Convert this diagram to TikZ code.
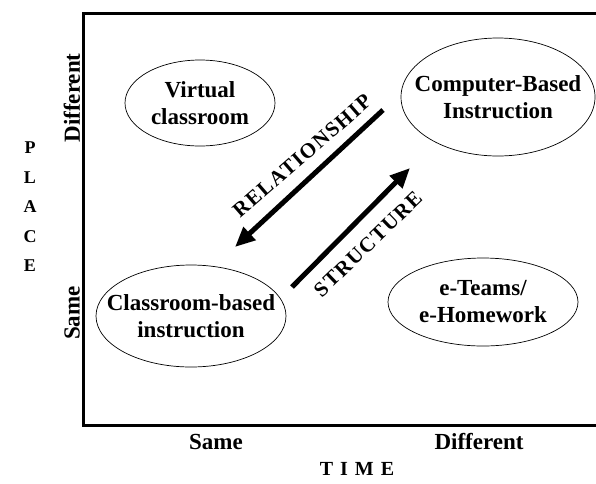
\documentclass[tikz,border=0pt]{standalone}
\usepackage{fontspec}
\setmainfont{Liberation Serif}
\newfontfamily\spacedfont[LetterSpace=7]{Liberation Serif}
\usetikzlibrary{shapes.geometric,arrows.meta}
\begin{document}
\begin{tikzpicture}[x=1pt,y=-1pt,
  oval/.style={ellipse,draw,line width=0.7pt,inner sep=0pt},
  ovaltext/.style={inner sep=0pt,font=\fontsize{23}{27}\selectfont\bfseries,align=center},
  axislab/.style={font=\fontsize{23}{27}\selectfont\bfseries},
  arrowlab/.style={font=\fontsize{21}{25}\selectfont\spacedfont\bfseries},
  bigarrow/.style={line width=5pt,-{Triangle[length=20pt,width=17pt]}}]
\useasboundingbox (0,0) rectangle (596,483);
\coordinate (tl) at (83,13);
\coordinate (tr) at (596,13);
\coordinate (bl) at (83,425);
\coordinate (br) at (596,425);
\draw[line width=3pt] (tr) -- (tl) -- (bl) -- (br);
\node[oval,minimum width=150,minimum height=86] (vc) at (200,103) {};
\node[ovaltext] (vct) at (vc.center) {Virtual\\classroom};
\node[oval,minimum width=194,minimum height=118] (cbi) at (498,97) {};
\node[ovaltext] (cbit) at (cbi.center) {Computer-Based\\Instruction};
\node[oval,minimum width=190,minimum height=102] (cri) at (191,316) {};
\node[ovaltext] (crit) at (cri.center) {Classroom-based\\instruction};
\node[oval,minimum width=190,minimum height=88] (et) at (483,302) {};
\node[ovaltext] (ett) at (et.center) {e-Teams/\\e-Homework};
\coordinate (r1) at (383,110);
\coordinate (r2) at (235,247);
\coordinate (s1) at (292,287);
\coordinate (s2) at (410,168);
\draw[bigarrow] (r1) -- (r2);
\draw[bigarrow] (s1) -- (s2);
\node[arrowlab,rotate=41] (rel) at (302,156) {RELATIONSHIP};
\node[arrowlab,rotate=44] (str) at (368,244) {STRUCTURE};
\node[axislab,rotate=90] (pd) at (72,98) {Different};
\node[axislab,rotate=90] (ps) at (72,313) {Same};
\node[axislab] (ts) at (216,442) {Same};
\node[axislab] (td) at (479,442) {Different};
\node[font=\fontsize{20}{24}\selectfont\bfseries] (time) at (357,469) {T\hskip7pt I\hskip7pt M\hskip7pt E};
\node[align=center,font=\fontsize{18}{29.5}\selectfont\bfseries] (place) at (30,207) {P\\L\\A\\C\\E};
\end{tikzpicture}
\end{document}
